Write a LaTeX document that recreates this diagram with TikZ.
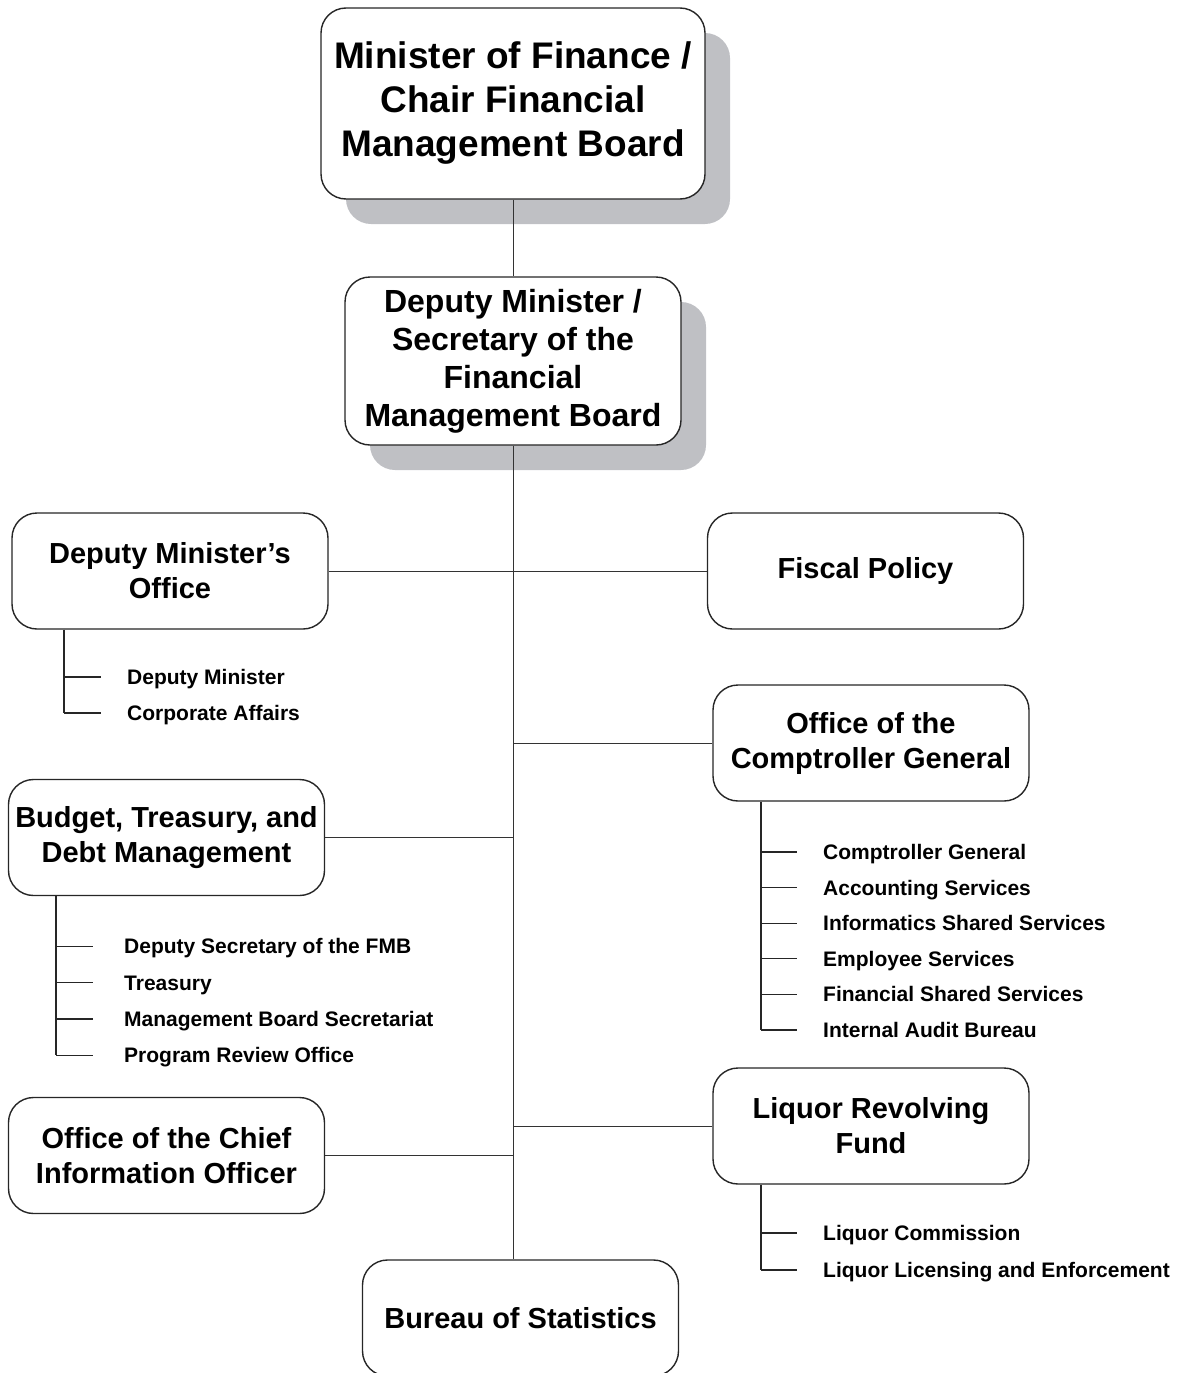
\documentclass[tikz,border=0pt]{standalone}
\usepackage{fontspec}
\setmainfont{Liberation Sans}
\usetikzlibrary{shadows}
\definecolor{shadowgray}{RGB}{191,192,196}

\begin{document}
\begin{tikzpicture}[x=1pt,y=-1pt]

\tikzstyle{box} = [draw=black!85, line width=1.4pt, fill=white, rounded corners=25pt, align=center, inner sep=2pt, minimum width=316pt, minimum height=116pt, font=\fontsize{29}{35}\selectfont\bfseries]
\tikzstyle{shade} = [drop shadow={shadow xshift=25pt, shadow yshift=-25pt, fill=shadowgray, opacity=1}]
\tikzstyle{item} = [anchor=west, inner sep=0pt, text height=15pt, text depth=0pt, font=\fontsize{21}{25}\selectfont\bfseries]
\tikzstyle{link} = [line width=0.9pt, black!80]
\tikzstyle{sub} = [line width=1.2pt, black!85]

\useasboundingbox (0,0) rectangle (1187,1373);

% Minister and Deputy Minister
\node[box, shade, minimum width=384pt, minimum height=191pt, font=\fontsize{37}{44}\selectfont\bfseries] (fin) at (513,103.5) {Minister of Finance /\\Chair Financial\\Management Board};
\node[box, shade, minimum width=336pt, minimum height=168pt, font=\fontsize{32}{38}\selectfont\bfseries] (dm) at (513,361) {Deputy Minister /\\Secretary of the\\Financial\\Management Board};

% Divisions
\node[box] (dmo) at (170,571) {Deputy Minister's\\Office};
\node[box] (fisc) at (865.5,571) {Fiscal Policy};
\node[box] (ocg) at (871,743) {Office of the\\Comptroller General};
\node[box] (btd) at (166.5,837.5) {Budget, Treasury, and\\Debt Management};
\node[box] (lrf) at (871,1126) {Liquor Revolving\\Fund};
\node[box] (cio) at (166.5,1155.5) {Office of the Chief\\Information Officer};
\node[box] (bos) at (520.5,1318) {Bureau of Statistics};

% Trunk
\draw[link] (fin.south) -- (dm.north);
\draw[link] (dm.south) -- (dm.south |- bos.north);

% Branches
\draw[link] (dmo.east) -- (dmo.east -| dm.south);
\draw[link] (fisc.west) -- (fisc.west -| dm.south);
\draw[link] (ocg.west) -- (ocg.west -| dm.south);
\draw[link] (btd.east) -- (btd.east -| dm.south);
\draw[link] (lrf.west) -- (lrf.west -| dm.south);
\draw[link] (cio.east) -- (cio.east -| dm.south);

% Deputy Minister's Office units
\foreach \t [count=\i] in {Deputy Minister, Corporate Affairs}
{
  \node[item] (dmo\i) at (127,{641+36*\i}) {\t};
  \draw[sub] (64,0 |- dmo\i.west) -- (101,0 |- dmo\i.west);
}
\draw[sub] (64,0 |- dmo.south) -- (64,0 |- dmo2.west);

% Budget units
\foreach \t [count=\i] in {Deputy Secretary of the FMB, Treasury, Management Board Secretariat, Program Review Office}
{
  \node[item] (btd\i) at (124,{910+36.3*\i}) {\t};
  \draw[sub] (56,0 |- btd\i.west) -- (93,0 |- btd\i.west);
}
\draw[sub] (56,0 |- btd.south) -- (56,0 |- btd4.west);

% Comptroller units
\foreach \t [count=\i] in {Comptroller General, Accounting Services, Informatics Shared Services, Employee Services, Financial Shared Services, Internal Audit Bureau}
{
  \node[item] (ocg\i) at (823,{816.4+35.6*\i}) {\t};
  \draw[sub] (761,0 |- ocg\i.west) -- (797,0 |- ocg\i.west);
}
\draw[sub] (761,0 |- ocg.south) -- (761,0 |- ocg6.west);

% Liquor units
\foreach \t [count=\i] in {Liquor Commission, Liquor Licensing and Enforcement}
{
  \node[item] (lrf\i) at (823,{1196+37*\i}) {\t};
  \draw[sub] (761,0 |- lrf\i.west) -- (797,0 |- lrf\i.west);
}
\draw[sub] (761,0 |- lrf.south) -- (761,0 |- lrf2.west);

\end{tikzpicture}
\end{document}
